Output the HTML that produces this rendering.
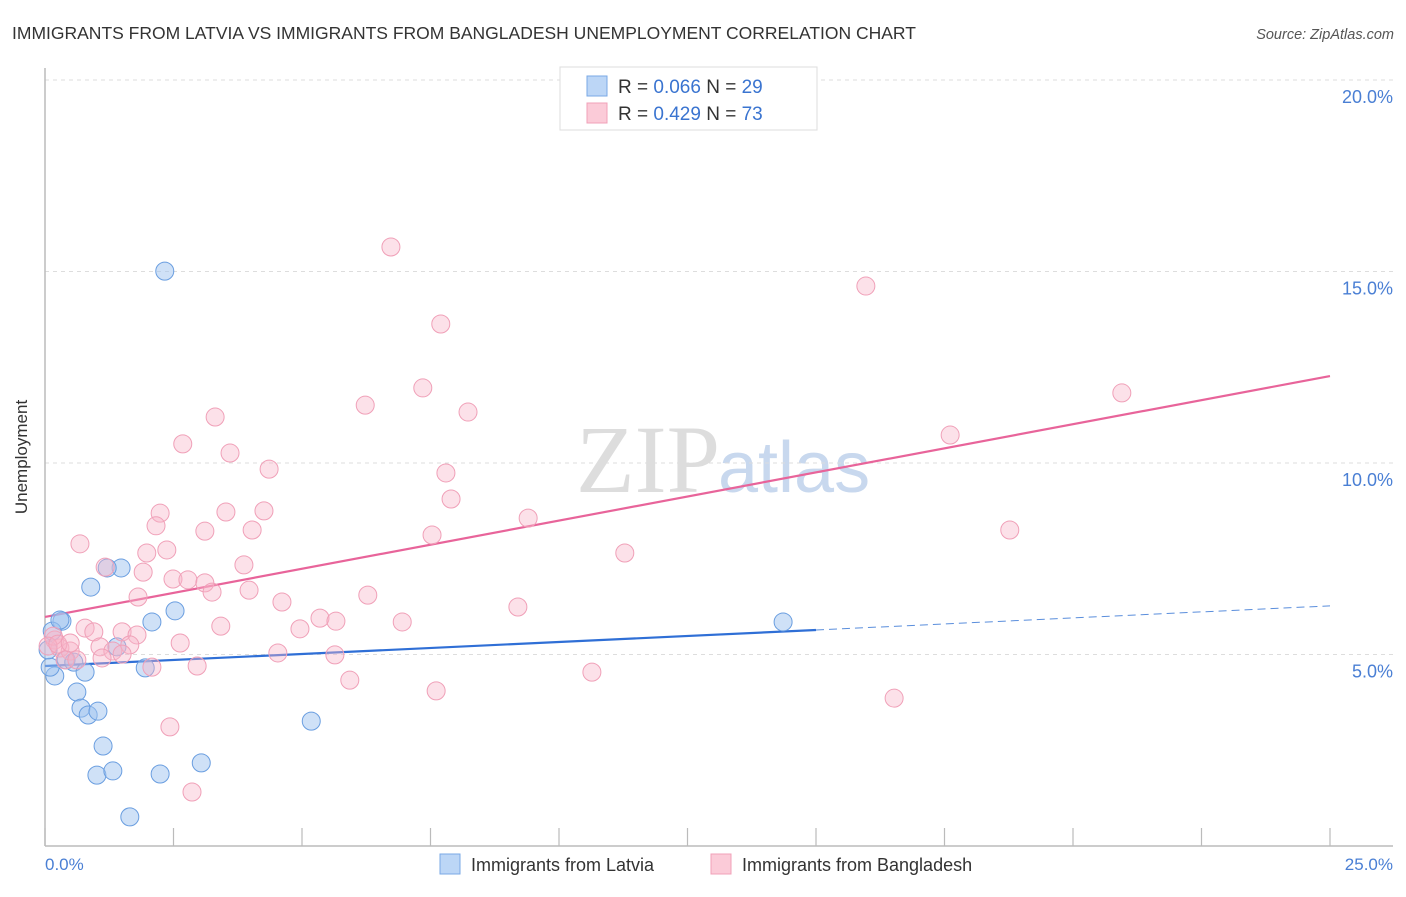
<!DOCTYPE html>
<html><head><meta charset="utf-8"><style>
body{margin:0;background:#fff;font-family:"Liberation Sans",sans-serif}
</style></head><body>
<svg width="1406" height="892" xmlns="http://www.w3.org/2000/svg" font-family="Liberation Sans, sans-serif">
<text x="12" y="39" font-size="17.5" fill="#333">IMMIGRANTS FROM LATVIA VS IMMIGRANTS FROM BANGLADESH UNEMPLOYMENT CORRELATION CHART</text>
<text x="1394" y="39" font-size="14.5" fill="#555" text-anchor="end" font-style="italic">Source: ZipAtlas.com</text>
<text x="720" y="492" font-size="96" fill="#ddd" text-anchor="end" font-family="Liberation Serif, serif">ZIP</text>
<text x="718" y="492" font-size="72" fill="#c8d8ee">atlas</text>
<g id="grid"></g>
<line x1="45" y1="68" x2="45" y2="846" stroke="#bbb" stroke-width="1.5"/>
<line x1="45" y1="846" x2="1393" y2="846" stroke="#bbb" stroke-width="1.5"/>
<g id="ticks"></g>
<text x="27" y="457" font-size="17" fill="#333" text-anchor="middle" transform="rotate(-90 27 457)">Unemployment</text>
<text x="45" y="870" font-size="17" fill="#4a7fd4">0.0%</text>
<text x="1393" y="870" font-size="17" fill="#4a7fd4" text-anchor="end">25.0%</text>
<g id="lines"></g>
<g id="pts"></g>
<g>
<rect x="560" y="67" width="257" height="63" fill="#fff" stroke="#ddd"/>
<rect x="587" y="76" width="20" height="20" fill="#bcd6f6" stroke="#7aa8e6"/>
<rect x="587" y="103" width="20" height="20" fill="#fbcbd8" stroke="#f0a0b8"/>
<text x="618" y="93" font-size="19" fill="#333">R = <tspan fill="#3a74d0">0.066</tspan>   N = <tspan fill="#3a74d0">29</tspan></text>
<text x="618" y="120" font-size="19" fill="#333">R = <tspan fill="#3a74d0">0.429</tspan>   N = <tspan fill="#3a74d0">73</tspan></text>
</g>
<g>
<rect x="440" y="854" width="20" height="20" fill="#bcd6f6" stroke="#7aa8e6"/>
<text x="471" y="871" font-size="18" fill="#333">Immigrants from Latvia</text>
<rect x="711" y="854" width="20" height="20" fill="#fbcbd8" stroke="#f0a0b8"/>
<text x="742" y="871" font-size="18" fill="#333">Immigrants from Bangladesh</text>
</g>
</svg>
<script>
const yTicks=[5,10,15,20];
const yTickLabels=["5.0%","10.0%","15.0%","20.0%"];
const xTicks=[0,2.5,5,7.5,10,12.5,15,17.5,20,22.5,25];
const latviaX=[2.33,0.33,0.19,0.10,0.14,0.41,0.56,0.78,0.62,0.70,0.84,1.03,1.13,1.01,1.32,2.24,3.04,1.65,1.48,1.21,0.89,2.08,2.53,1.95,1.40,5.18,14.36,0.29,0.06];
const latviaY=[15.01,5.87,4.44,4.67,5.61,4.86,4.80,4.54,4.02,3.60,3.42,3.52,2.61,1.85,1.96,1.88,2.17,0.76,7.26,7.26,6.76,5.85,6.14,4.65,5.20,3.26,5.85,5.90,5.12];
const bangX=[6.73,15.97,7.70,7.35,6.23,8.23,3.31,2.68,3.60,4.36,7.80,7.90,20.95,17.61,2.24,3.52,4.26,3.11,2.16,4.03,7.53,9.40,18.77,0.68,2.37,1.98,11.28,1.17,1.91,2.49,2.78,3.11,3.25,3.87,3.97,1.81,4.61,6.28,9.20,5.35,5.66,6.95,0.78,0.95,1.50,1.79,3.42,4.96,2.63,1.65,1.07,1.32,0.19,0.29,0.49,0.39,0.16,0.06,4.53,5.64,1.50,2.08,2.96,5.93,10.64,7.61,16.52,2.43,2.86,1.11,0.62,0.25,0.49];
const bangY=[15.64,14.62,13.63,11.96,11.51,11.33,11.20,10.50,10.26,9.84,9.74,9.06,11.83,10.73,8.69,8.72,8.75,8.22,8.36,8.25,8.12,8.56,8.25,7.89,7.73,7.65,7.65,7.28,7.15,6.97,6.95,6.87,6.63,7.34,6.68,6.50,6.37,6.55,6.24,5.95,5.87,5.85,5.69,5.59,5.59,5.51,5.74,5.67,5.30,5.25,5.20,5.09,5.38,5.17,5.09,4.86,5.48,5.22,5.04,4.99,5.01,4.67,4.70,4.33,4.54,4.05,3.86,3.11,1.41,4.91,4.86,5.27,5.30];
const latviaTrend=[4.70,5.64,6.27]; // at x=0, 15, 25
const bangTrend=[5.98,12.27]; // at x=0, 25
const sx=v=>45+v*51.4, sy=v=>846-v*38.3;
const NS="http://www.w3.org/2000/svg";
function mk(p,t,a){const e=document.createElementNS(NS,t);for(const k in a)e.setAttribute(k,a[k]);p.appendChild(e);return e;}
const grid=document.getElementById('grid');
yTicks.forEach((v,i)=>{
 const l=mk(grid,'line',{x1:45,x2:1393,y1:sy(v),y2:sy(v),stroke:'#ddd','stroke-dasharray':'4,4'});
 
 
 const t=mk(grid,'text',{x:1393,y:sy(v)+23,'font-size':18,fill:'#4a7fd4','text-anchor':'end'});
 t.textContent=yTickLabels[i];
 
 
});
const tk=document.getElementById('ticks');
xTicks.forEach(v=>{
 const l=mk(tk,'line',{x1:sx(v),x2:sx(v),y1:828,y2:846,stroke:'#bbb','stroke-width':1.2});
 
 
});
const pts=document.getElementById('pts');
latviaX.forEach((x,i)=>{
 const c=mk(pts,'circle',{cx:sx(x),cy:sy(latviaY[i]),r:9,fill:'rgba(160,196,240,0.5)',stroke:'#6a9ee0','stroke-width':1});
 
 
});
bangX.forEach((x,i)=>{
 const c=mk(pts,'circle',{cx:sx(x),cy:sy(bangY[i]),r:9,fill:'rgba(248,180,200,0.4)',stroke:'#f0a0b8','stroke-width':1});
 
 
});
const ln=document.getElementById('lines');
let a=mk(ln,'line',{x1:sx(0),y1:sy(bangTrend[0]),x2:sx(25),y2:sy(bangTrend[1]),stroke:'#e8649a','stroke-width':2.2});


a=mk(ln,'line',{x1:sx(0),y1:sy(latviaTrend[0]),x2:sx(15),y2:sy(latviaTrend[1]),stroke:'#2f6fd6','stroke-width':2.2});


a=mk(ln,'line',{x1:sx(15),y1:sy(latviaTrend[1]),x2:sx(25),y2:sy(latviaTrend[2]),stroke:'#5a8edc','stroke-width':1,'stroke-dasharray':'8,5'});


</script>
</body></html>
